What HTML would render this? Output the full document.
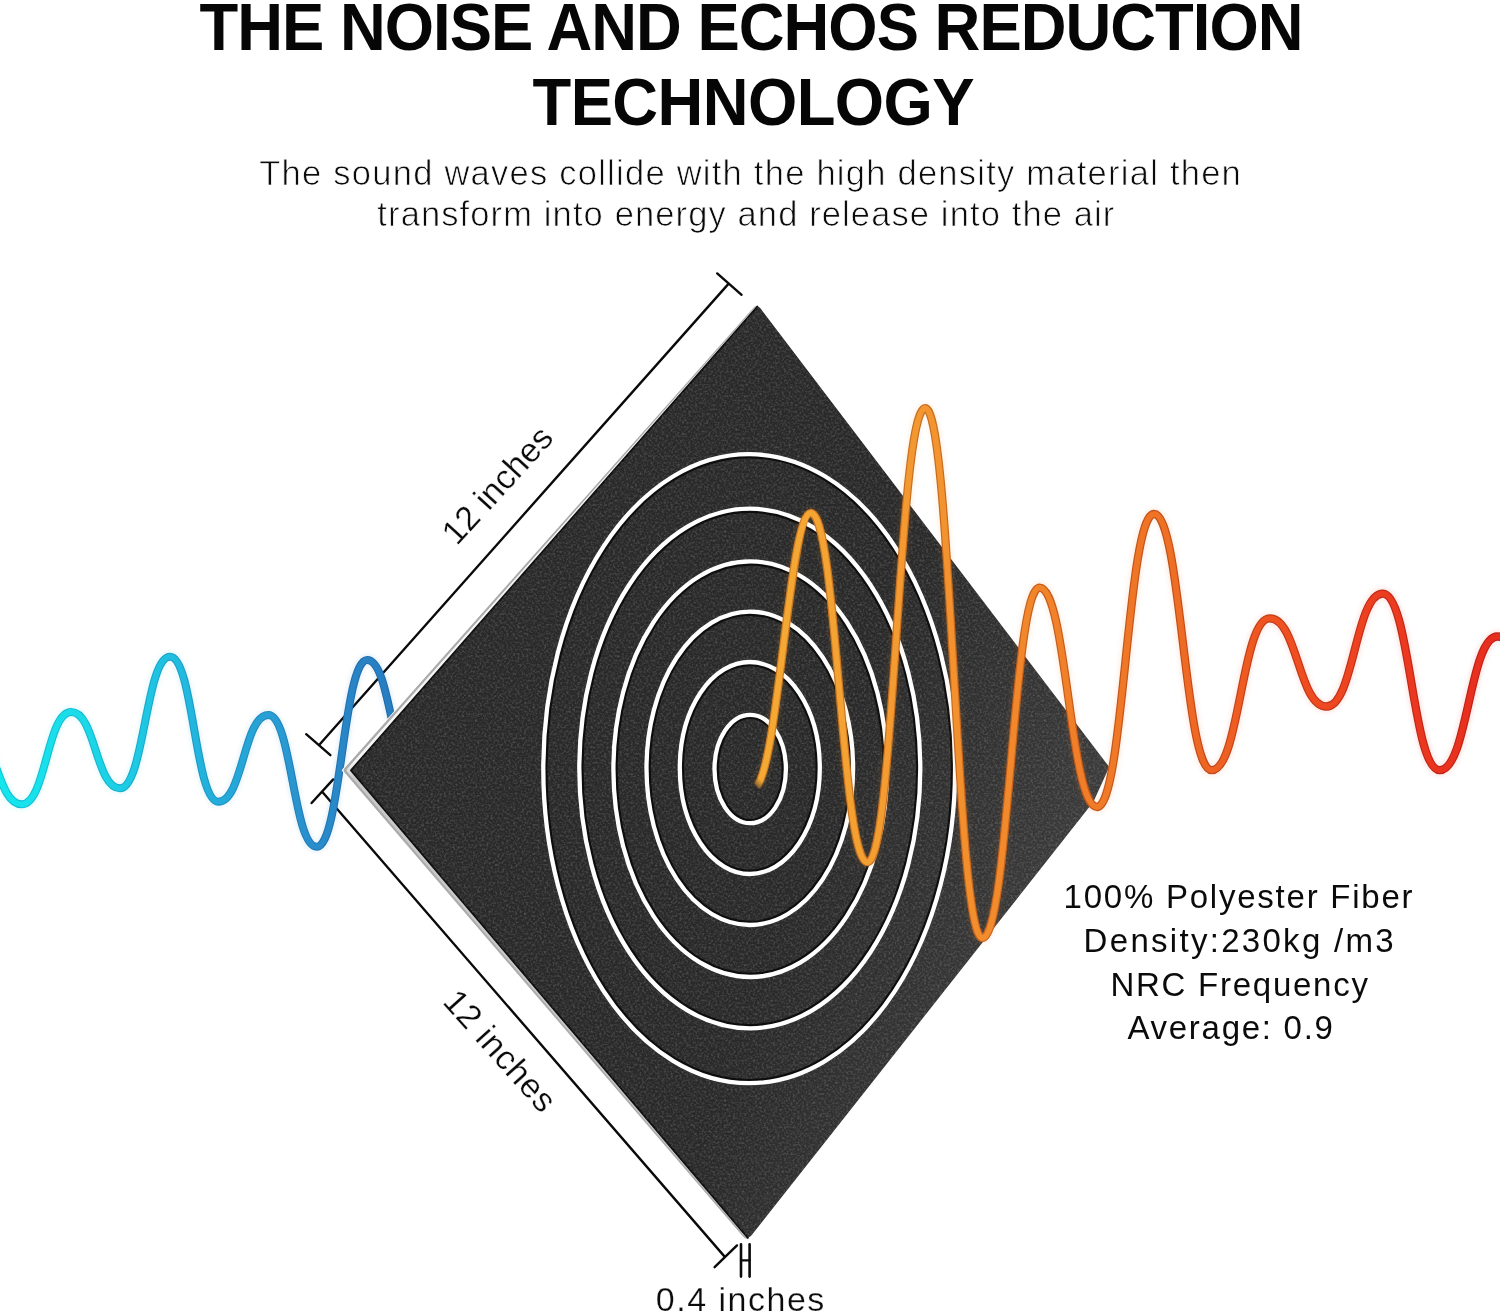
<!DOCTYPE html>
<html lang="en">
<head>
<meta charset="utf-8">
<title>The Noise and Echos Reduction Technology</title>
<style>
  html, body { margin: 0; padding: 0; background: #ffffff; }
  body { width: 1500px; height: 1314px; overflow: hidden; font-family: "Liberation Sans", sans-serif; }
  svg { display: block; position: absolute; left: 0; top: 0; }
  text { font-family: "Liberation Sans", sans-serif; fill: #0b0b0b; opacity: 0.995; }
  .title { font-weight: bold; font-size: 63.4px; fill: #060606; }
  .sub { font-size: 34.5px; stroke: #ffffff; stroke-width: 0.75px; }
  .spec { font-size: 33px; }
  .dim { font-size: 34px; stroke: #ffffff; stroke-width: 0.25px; }
  .dimline { stroke: #0a0a0a; stroke-width: 2.4; fill: none; stroke-linecap: round; }
  .rings ellipse { fill: none; }
</style>
</head>
<body>
<svg width="1500" height="1314" viewBox="0 0 1500 1314">
  <defs>
    <linearGradient id="gBlue" gradientUnits="userSpaceOnUse" x1="0" y1="0" x2="392" y2="0">
      <stop offset="0" stop-color="#14e6ee"/>
      <stop offset="0.18" stop-color="#1adde9"/>
      <stop offset="0.43" stop-color="#20bfe0"/>
      <stop offset="0.56" stop-color="#23acda"/>
      <stop offset="0.69" stop-color="#289fd4"/>
      <stop offset="0.81" stop-color="#298ccb"/>
      <stop offset="0.94" stop-color="#2781c3"/>
      <stop offset="1" stop-color="#267dc0"/>
    </linearGradient>
    <linearGradient id="gBlueD" gradientUnits="userSpaceOnUse" x1="0" y1="0" x2="392" y2="0">
      <stop offset="0" stop-color="#11c3d6"/>
      <stop offset="0.18" stop-color="#16bbd1"/>
      <stop offset="0.43" stop-color="#1ba2c9"/>
      <stop offset="0.56" stop-color="#1d92c4"/>
      <stop offset="0.69" stop-color="#2287be"/>
      <stop offset="0.81" stop-color="#2277b6"/>
      <stop offset="0.94" stop-color="#216daf"/>
      <stop offset="1" stop-color="#206aac"/>
    </linearGradient>
    <linearGradient id="gOrange" gradientUnits="userSpaceOnUse" x1="755" y1="0" x2="1500" y2="0">
      <stop offset="0" stop-color="#f5aa33"/>
      <stop offset="0.12" stop-color="#f4a232"/>
      <stop offset="0.23" stop-color="#f3962f"/>
      <stop offset="0.31" stop-color="#f28c2c"/>
      <stop offset="0.4" stop-color="#f18229"/>
      <stop offset="0.54" stop-color="#ef7225"/>
      <stop offset="0.61" stop-color="#ee6423"/>
      <stop offset="0.69" stop-color="#ef5320"/>
      <stop offset="0.77" stop-color="#ee4820"/>
      <stop offset="0.84" stop-color="#ec3d20"/>
      <stop offset="0.92" stop-color="#ea331f"/>
      <stop offset="1" stop-color="#e82c1e"/>
    </linearGradient>
    <linearGradient id="gOrangeD" gradientUnits="userSpaceOnUse" x1="755" y1="0" x2="1500" y2="0">
      <stop offset="0" stop-color="#c87a24"/>
      <stop offset="0.12" stop-color="#c87424"/>
      <stop offset="0.23" stop-color="#c76c21"/>
      <stop offset="0.31" stop-color="#c6641f"/>
      <stop offset="0.4" stop-color="#c55d1d"/>
      <stop offset="0.54" stop-color="#c3521a"/>
      <stop offset="0.61" stop-color="#c34819"/>
      <stop offset="0.69" stop-color="#c33b17"/>
      <stop offset="0.77" stop-color="#c33317"/>
      <stop offset="0.84" stop-color="#c12b17"/>
      <stop offset="0.92" stop-color="#bf2416"/>
      <stop offset="1" stop-color="#be1f15"/>
    </linearGradient>

    <linearGradient id="gFade" gradientUnits="userSpaceOnUse" x1="755.5" y1="787.4" x2="762" y2="781">
      <stop offset="0" stop-color="#fff" stop-opacity="0"/>
      <stop offset="0.35" stop-color="#fff" stop-opacity="0.55"/>
      <stop offset="1" stop-color="#fff" stop-opacity="1"/>
    </linearGradient>
    <mask id="mTail" maskUnits="userSpaceOnUse" x="0" y="0" width="1500" height="1314">
      <rect x="0" y="0" width="1500" height="1314" fill="url(#gFade)"/>
    </mask>
    <linearGradient id="gBevel" gradientUnits="userSpaceOnUse" x1="0" y1="762" x2="0" y2="778">
      <stop offset="0" stop-color="#f6f6f6"/>
      <stop offset="1" stop-color="#c9c9c9"/>
    </linearGradient>
    <linearGradient id="gSheen" gradientUnits="userSpaceOnUse" x1="860" y1="700" x2="1108" y2="790">
      <stop offset="0" stop-color="#fff" stop-opacity="0"/>
      <stop offset="1" stop-color="#fff" stop-opacity="0.085"/>
    </linearGradient>
    <filter id="grain" x="0" y="0" width="100%" height="100%" filterUnits="objectBoundingBox">
      <feTurbulence type="fractalNoise" baseFrequency="0.45" numOctaves="2" seed="7" result="n"/>
      <feColorMatrix in="n" type="matrix" values="0 0 0 0 1  0 0 0 0 1  0 0 0 0 1  0.42 0 0 0 -0.18" result="a"/>
      <feComposite in="a" in2="SourceGraphic" operator="in"/>
    </filter>
    <filter id="glow" x="-5%" y="-5%" width="110%" height="110%">
      <feGaussianBlur stdDeviation="2.2"/>
    </filter>
    <clipPath id="notPanel">
      <path d="M0,0 H1500 V1314 H0 Z M756.8,303.5 L341.4,770.3 L747,1240.5 L1110.5,766 Z" clip-rule="evenodd"/>
    </clipPath>
  </defs>

  <rect x="0" y="0" width="1500" height="1314" fill="#ffffff"/>

  <!-- heading -->
  <text class="title" transform="matrix(1 0 0 1.055 0 -2.75)" x="199.5" y="50" textLength="1104" lengthAdjust="spacing">THE NOISE AND ECHOS REDUCTION</text>
  <text class="title" transform="matrix(1 0 0 1.055 0 -6.86)" x="532.5" y="124.8" textLength="442" lengthAdjust="spacing">TECHNOLOGY</text>
  <text class="sub" x="259.3" y="184.5" textLength="981.5" lengthAdjust="spacing">The sound waves collide with the high density material then</text>
  <text class="sub" x="377.3" y="226" textLength="737" lengthAdjust="spacing">transform into energy and release into the air</text>

  <!-- dimension lines -->
  <g class="dimline">
    <path d="M320,744 L728,284.4"/>
    <path d="M306.2,734.2 L330.4,755.2"/>
    <path d="M717.2,273.4 L741.6,294.8"/>
    <path d="M322.4,792 L724.4,1256.4"/>
    <path d="M311.6,803 L333.2,779.4"/>
    <path d="M714.6,1267.2 L737,1245.4"/>
    <path d="M741,1244.2 V1276.6 M749.6,1244.2 V1276.6" stroke-width="2.6"/>
    <path d="M741,1260.3 H749.6" stroke-width="2.2"/>
  </g>
  <text class="dim" transform="translate(505.9,492.9) rotate(-47.6)" text-anchor="middle" x="0" y="0" textLength="145.5" lengthAdjust="spacing">12 inches</text>
  <text class="dim" transform="translate(491.4,1058.4) rotate(48.2)" text-anchor="middle" x="0" y="0" textLength="150" lengthAdjust="spacing">12 inches</text>
  <text class="dim" x="655.8" y="1310.7" textLength="168.5" lengthAdjust="spacing">0.4 inches</text>

  <!-- incoming (blue) wave, hidden behind the panel -->
  <g clip-path="url(#notPanel)">
    <path d="M-27.5,736.0 C-3.0,736.0 -2.8,804.3 21.7,804.3 C46.1,804.3 46.8,712.0 71.2,712.0 C95.4,712.0 95.8,788.3 120.0,788.3 C144.2,788.3 145.8,656.7 170.0,656.7 C193.3,656.7 195.0,801.7 218.3,801.7 C243.0,801.7 243.6,715.0 268.3,715.0 C291.8,715.0 293.2,846.7 316.7,846.7 C340.8,846.7 343.1,660.0 367.2,660.0 C391.0,660.0 392.2,777.0 416.0,777.0" fill="none" stroke="url(#gBlue)" stroke-width="11" opacity="0.12" filter="url(#glow)"/>
    <path d="M-27.5,736.0 C-3.0,736.0 -2.8,804.3 21.7,804.3 C46.1,804.3 46.8,712.0 71.2,712.0 C95.4,712.0 95.8,788.3 120.0,788.3 C144.2,788.3 145.8,656.7 170.0,656.7 C193.3,656.7 195.0,801.7 218.3,801.7 C243.0,801.7 243.6,715.0 268.3,715.0 C291.8,715.0 293.2,846.7 316.7,846.7 C340.8,846.7 343.1,660.0 367.2,660.0 C391.0,660.0 392.2,777.0 416.0,777.0" fill="none" stroke="url(#gBlueD)" stroke-width="8" stroke-linecap="butt"/>
    <path d="M-27.5,736.0 C-3.0,736.0 -2.8,804.3 21.7,804.3 C46.1,804.3 46.8,712.0 71.2,712.0 C95.4,712.0 95.8,788.3 120.0,788.3 C144.2,788.3 145.8,656.7 170.0,656.7 C193.3,656.7 195.0,801.7 218.3,801.7 C243.0,801.7 243.6,715.0 268.3,715.0 C291.8,715.0 293.2,846.7 316.7,846.7 C340.8,846.7 343.1,660.0 367.2,660.0 C391.0,660.0 392.2,777.0 416.0,777.0" fill="none" stroke="url(#gBlue)" stroke-width="5.8" stroke-linecap="butt"/>
  </g>

  <!-- acoustic panel -->
  <g>
    <path d="M753.87,307.29 Q756.70,304.10 759.28,307.49 L1106.87,765.71 Q1108.30,767.60 1107.33,769.76 L1093.96,799.58 Q1093.50,800.60 1092.81,801.47 L749.61,1236.78 Q746.60,1240.60 743.43,1236.91 L344.31,772.29 Q342.60,770.30 344.34,768.34 Z" fill="#ababab"/>
    <path d="M754.61,308.12 Q757.20,305.20 759.56,308.31 L1106.64,765.94 Q1107.90,767.60 1107.04,769.50 L1093.55,799.40 Q1093.10,800.40 1092.42,801.26 L750.09,1235.86 Q747.30,1239.40 744.37,1235.98 L347.21,771.95 Q345.80,770.30 347.24,768.67 Z" fill="url(#gBevel)"/>
    <path d="M756.04,308.18 Q758.30,305.60 760.38,308.33 L1107.93,765.34 Q1109.20,767.00 1108.34,768.90 L1093.75,801.01 Q1093.30,802.00 1092.62,802.86 L751.55,1235.34 Q748.90,1238.70 746.13,1235.44 L352.60,771.94 Q351.20,770.30 352.62,768.68 Z" fill="#292929"/>
    <path d="M757.4,306.6 L351.0,770.3 L747.9,1237.9" fill="none" stroke="#0e0e0e" stroke-width="1.9" stroke-linejoin="round" stroke-linecap="round"/>
    <path d="M756.04,308.18 Q758.30,305.60 760.38,308.33 L1107.93,765.34 Q1109.20,767.00 1108.34,768.90 L1093.75,801.01 Q1093.30,802.00 1092.62,802.86 L751.55,1235.34 Q748.90,1238.70 746.13,1235.44 L352.60,771.94 Q351.20,770.30 352.62,768.68 Z" fill="url(#gSheen)"/>
    <path d="M756.04,308.18 Q758.30,305.60 760.38,308.33 L1107.93,765.34 Q1109.20,767.00 1108.34,768.90 L1093.75,801.01 Q1093.30,802.00 1092.62,802.86 L751.55,1235.34 Q748.90,1238.70 746.13,1235.44 L352.60,771.94 Q351.20,770.30 352.62,768.68 Z" fill="#ffffff" filter="url(#grain)"/>
  </g>

  <!-- concentric rings -->
  <g class="rings" stroke="#0a0a0a" stroke-width="5.6" opacity="0.9">
<ellipse cx="750.2" cy="769.0" rx="34.2" ry="52.7"/>
<ellipse cx="749.8" cy="768.0" rx="68.5" ry="104.5"/>
<ellipse cx="749.8" cy="768.3" rx="101.8" ry="155.2"/>
<ellipse cx="750.2" cy="769.2" rx="135.3" ry="206.3"/>
<ellipse cx="749.8" cy="768.5" rx="169.0" ry="258.3"/>
<ellipse cx="749.2" cy="768.7" rx="204.4" ry="313.0"/>
  </g>
  <g class="rings" stroke="#ffffff" stroke-width="4.3">
<ellipse cx="750.2" cy="769.0" rx="35.7" ry="54.2"/>
<ellipse cx="749.8" cy="768.0" rx="70.0" ry="106.0"/>
<ellipse cx="749.8" cy="768.3" rx="103.3" ry="156.7"/>
<ellipse cx="750.2" cy="769.2" rx="136.8" ry="207.8"/>
<ellipse cx="749.8" cy="768.5" rx="170.5" ry="259.8"/>
<ellipse cx="749.2" cy="768.7" rx="205.9" ry="314.5"/>
  </g>

  <!-- outgoing (orange/red) wave -->
  <g mask="url(#mTail)">
    <path d="M756.4,786.4 C778.2,766.2 789.7,513 810.8,513 C837.2,513.0 841.1,862.2 867.5,862.2 C894.3,862.2 898.5,408.2 925.3,408.2 C951.6,408.2 956.0,938.0 982.3,938.0 C1008.9,938.0 1012.9,587.6 1039.5,587.6 C1066.8,587.6 1069.8,807.0 1097.1,807.0 C1123.8,807.0 1127.3,514.0 1154.0,514.0 C1181.2,514.0 1184.5,770.2 1211.7,770.2 C1239.6,770.2 1241.7,618.4 1269.6,618.4 C1297.7,618.4 1298.4,706.5 1326.5,706.5 C1354.0,706.5 1355.3,593.6 1382.8,593.6 C1410.0,593.6 1412.5,770.2 1439.7,770.2 C1467.7,770.2 1469.5,636.5 1497.5,636.5 C1526.2,636.5 1526.3,700.0 1555.0,700.0" fill="none" stroke="url(#gOrange)" stroke-width="12" opacity="0.12" filter="url(#glow)"/>
    <path d="M756.4,786.4 C778.2,766.2 789.7,513 810.8,513 C837.2,513.0 841.1,862.2 867.5,862.2 C894.3,862.2 898.5,408.2 925.3,408.2 C951.6,408.2 956.0,938.0 982.3,938.0 C1008.9,938.0 1012.9,587.6 1039.5,587.6 C1066.8,587.6 1069.8,807.0 1097.1,807.0 C1123.8,807.0 1127.3,514.0 1154.0,514.0 C1181.2,514.0 1184.5,770.2 1211.7,770.2 C1239.6,770.2 1241.7,618.4 1269.6,618.4 C1297.7,618.4 1298.4,706.5 1326.5,706.5 C1354.0,706.5 1355.3,593.6 1382.8,593.6 C1410.0,593.6 1412.5,770.2 1439.7,770.2 C1467.7,770.2 1469.5,636.5 1497.5,636.5 C1526.2,636.5 1526.3,700.0 1555.0,700.0" fill="none" stroke="url(#gOrangeD)" stroke-width="8.3" stroke-linecap="butt"/>
    <path d="M756.4,786.4 C778.2,766.2 789.7,513 810.8,513 C837.2,513.0 841.1,862.2 867.5,862.2 C894.3,862.2 898.5,408.2 925.3,408.2 C951.6,408.2 956.0,938.0 982.3,938.0 C1008.9,938.0 1012.9,587.6 1039.5,587.6 C1066.8,587.6 1069.8,807.0 1097.1,807.0 C1123.8,807.0 1127.3,514.0 1154.0,514.0 C1181.2,514.0 1184.5,770.2 1211.7,770.2 C1239.6,770.2 1241.7,618.4 1269.6,618.4 C1297.7,618.4 1298.4,706.5 1326.5,706.5 C1354.0,706.5 1355.3,593.6 1382.8,593.6 C1410.0,593.6 1412.5,770.2 1439.7,770.2 C1467.7,770.2 1469.5,636.5 1497.5,636.5 C1526.2,636.5 1526.3,700.0 1555.0,700.0" fill="none" stroke="url(#gOrange)" stroke-width="5.9" stroke-linecap="butt"/>
  </g>

  <!-- specs -->
  <text class="spec" x="1063.6" y="908.3" textLength="349" lengthAdjust="spacing">100% Polyester Fiber</text>
  <text class="spec" x="1083.6" y="951.5" textLength="310" lengthAdjust="spacing">Density:230kg /m3</text>
  <text class="spec" x="1110.4" y="995.5" textLength="257.5" lengthAdjust="spacing">NRC Frequency</text>
  <text class="spec" x="1127.4" y="1039.3" textLength="205.5" lengthAdjust="spacing">Average: 0.9</text>
</svg>
</body>
</html>
